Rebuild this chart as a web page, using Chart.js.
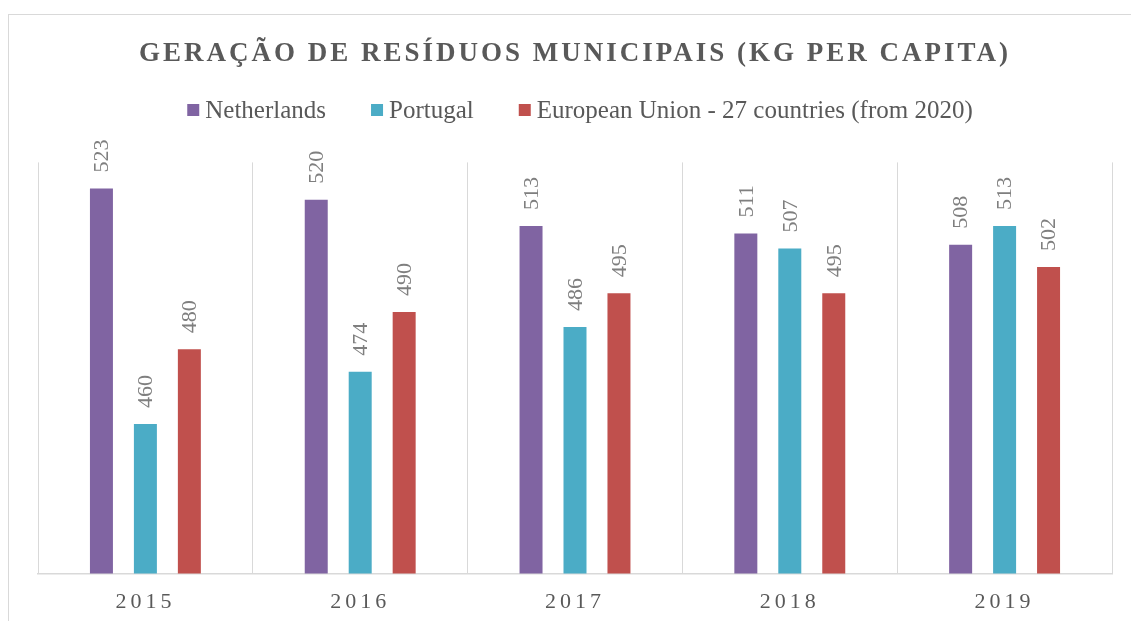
<!DOCTYPE html>
<html>
<head>
<meta charset="utf-8">
<script src="https://cdn.jsdelivr.net/npm/chart.js@4/dist/chart.umd.min.js"></script>
<style>
  html, body { margin: 0; padding: 0; background: #fff; overflow: hidden; }
  #frame { position: absolute; left: 8px; top: 14px; width: 1200px; height: 700px; border: 1px solid #d9d9d9; }
  #wrap { position: absolute; left: 0; top: 0; width: 1131px; height: 621px; }
</style>
</head>
<body>
<div id="frame"></div>
<div id="wrap"><canvas id="chart"></canvas></div>
<script>
// data
const years = ['2015', '2016', '2017', '2018', '2019'];
const seriesNames = ['Netherlands', 'Portugal', 'European Union - 27 countries (from 2020)'];
const netherlands = [523, 520, 513, 511, 508];
const portugal = [460, 474, 486, 507, 513];
const eu27 = [480, 490, 495, 495, 502];
const colors = ['#8064a2', '#4bacc6', '#c0504d'];

const serif = "'Liberation Serif', 'DejaVu Serif', serif";
const textGray = '#595959';

// canvas letter spacing for the title and the year labels
function spaced(obj, fn, spacing) {
  if (!obj || obj['_sp_' + fn]) return;
  const orig = obj[fn];
  obj['_sp_' + fn] = true;
  obj[fn] = function (...args) {
    const ctx = this.ctx;
    ctx.save();
    ctx.letterSpacing = spacing;
    orig.apply(this, args);
    ctx.restore();
  };
}

const spacedText = {
  id: 'spacedText',
  beforeDraw(chart) {
    spaced(chart.titleBlock, 'draw', '3px');
    spaced(chart.scales.x, 'drawLabels', '4px');
  }
};

// legend row drawn by hand so the gaps match the original
const legendRow = {
  id: 'legendRow',
  afterDraw(chart) {
    const ctx = chart.ctx;
    const box = 12, gap = 6, itemGap = 45;
    ctx.save();
    ctx.font = '25px ' + serif;
    const widths = chart.data.datasets.map(d => ctx.measureText(d.label).width);
    let total = 0;
    widths.forEach((w, i) => { total += box + gap + w + (i ? itemGap : 0); });
    let x = 580 - total / 2;
    const base = 118;
    chart.data.datasets.forEach((d, i) => {
      ctx.fillStyle = d.backgroundColor;
      ctx.fillRect(x, 104, box, box);
      ctx.fillStyle = textGray;
      ctx.textBaseline = 'alphabetic';
      ctx.fillText(d.label, x + box + gap, base);
      x += box + gap + widths[i] + itemGap;
    });
    ctx.restore();
  }
};

// rotated value labels above each bar
const barLabels = {
  id: 'barLabels',
  afterDatasetsDraw(chart) {
    const ctx = chart.ctx;
    ctx.save();
    ctx.font = '22px ' + serif;
    ctx.fillStyle = '#7f7f7f';
    ctx.textAlign = 'left';
    ctx.textBaseline = 'middle';
    chart.data.datasets.forEach((d, i) => {
      chart.getDatasetMeta(i).data.forEach((bar, j) => {
        ctx.save();
        ctx.translate(bar.x + 1, bar.y - 16);
        ctx.rotate(-Math.PI / 2);
        ctx.fillText(String(d.data[j]), 0, 0);
        ctx.restore();
      });
    });
    ctx.restore();
  }
};

new Chart(document.getElementById('chart'), {
  type: 'bar',
  data: {
    labels: years,
    datasets: [
      { label: seriesNames[0], data: netherlands, backgroundColor: colors[0] },
      { label: seriesNames[1], data: portugal, backgroundColor: colors[1] },
      { label: seriesNames[2], data: eu27, backgroundColor: colors[2] }
    ]
  },
  options: {
    responsive: true,
    maintainAspectRatio: false,
    animation: false,
    categoryPercentage: 0.614,
    barPercentage: 0.523,
    layout: { padding: { left: 38, right: 19, top: 0, bottom: -9 } },
    plugins: {
      legend: { display: false },
      tooltip: { enabled: false },
      title: {
        display: true,
        text: 'GERAÇÃO DE RESÍDUOS MUNICIPAIS (KG PER CAPITA)',
        color: textGray,
        font: { family: serif, size: 27, weight: 'bold' },
        padding: { top: 38, bottom: 92 }
      }
    },
    scales: {
      x: {
        grid: { color: '#d9d9d9', lineWidth: 1, drawTicks: false, offset: true },
        border: { color: '#d9d9d9', width: 1.5 },
        ticks: { color: textGray, font: { family: serif, size: 22 }, padding: 15 }
      },
      y: {
        display: false,
        min: 420,
        max: 530
      }
    }
  },
  plugins: [spacedText, barLabels, legendRow]
});
</script>
</body>
</html>
